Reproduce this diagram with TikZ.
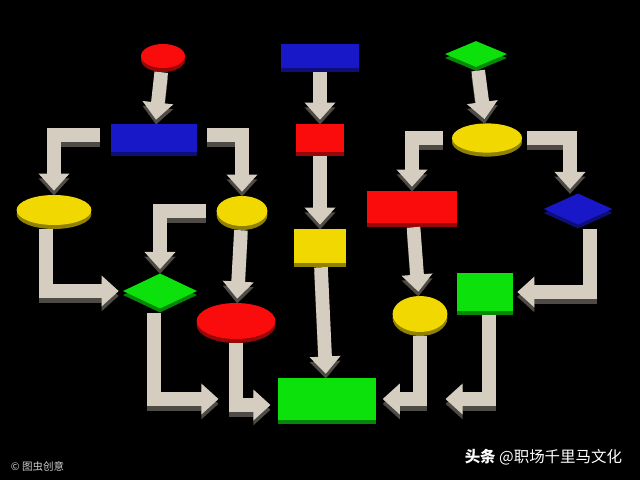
\documentclass[tikz,border=0pt]{standalone}
\usepackage{fontspec}
\usepackage{tikz}
\usetikzlibrary{shapes.geometric,arrows.meta,shadows}
\newfontfamily\cjk{Noto Sans CJK SC}
\definecolor{flowred}{RGB}{250,12,12}
\definecolor{flowblue}{RGB}{24,24,200}
\definecolor{flowgreen}{RGB}{12,225,12}
\definecolor{flowyellow}{RGB}{240,216,0}
\definecolor{flowbeige}{RGB}{214,205,193}
\definecolor{flowshade}{RGB}{78,74,70}
\tikzset{
  slab/.style={fill=#1, inner sep=0pt, general shadow={fill=#1!60!black, shadow yshift=-1mm}},
  box/.style={rectangle, slab=#1},
  oval/.style={ellipse, slab=#1},
  rhomb/.style={diamond, slab=#1},
  flow/.style={draw=flowbeige, line width=3.4mm, line join=miter,
    -{Triangle[width=7.5mm, length=4.3mm]}, shorten <=1mm, shorten >=1mm}
}
% all connectors, drawn once as shadow and once on top
\newcommand\flowlinks{
\draw[flow] (redtop) -- (bluebar);
\draw[flow] (bluetop) -- (redbox);
\draw[flow] (greentop) -- (yellowright);
\draw[flow, shorten <=2.7mm] ([yshift=0.7mm]bluebar.west) -| (yellowleft.north);
\draw[flow, shorten <=2.5mm] ([yshift=0.7mm]bluebar.east) -| (yellowmid.north);
\draw[flow] (redbox) -- (yellowbox);
\draw[flow, shorten <=2.3mm] (yellowright.west) -| (redbar.north);
\draw[flow, shorten <=1.3mm] (yellowright.east) -| ([xshift=-2mm]bluediamond.north);
\draw[flow] ([xshift=-2mm]yellowleft.south) |- (greendiamond.west);
\draw[flow] (yellowmid) -- (redoval);
\draw[flow, shorten <=2.7mm] (yellowmid.west) -| (greendiamond.north);
\draw[flow] (yellowbox) -- (greenbase);
\draw[flow] (redbar) -- (yellowsmall);
\draw[flow] ([xshift=3mm]bluediamond.south) |- (greenbox.east);
\draw[flow, shorten >=14.7mm] ([xshift=-1.5mm]greendiamond.south) |- (greenbase.west);
\draw[flow, shorten >=1.7mm] (redoval.south) |- ([yshift=-1.5mm]greenbase.west);
\draw[flow, shorten >=1.5mm] (yellowsmall.south) |- (greenbase.east);
\draw[flow, shorten >=17.2mm] ([xshift=1mm]greenbox.south) |- (greenbase.east);
}
\begin{document}
\begin{tikzpicture}[x=0.25mm, y=-0.25mm]
\fill[black] (0,0) rectangle (640,480);
\useasboundingbox (0,0) rectangle (640,480);

% top row
\node[oval=flowred, minimum width=11mm, minimum height=6mm] (redtop) at (163,56) {};
\node[box=flowblue, minimum width=19.5mm, minimum height=6mm] (bluetop) at (320,56) {};
\node[rhomb=flowgreen, minimum width=15.5mm, minimum height=6.5mm] (greentop) at (476,54) {};

% second row
\node[box=flowblue, minimum width=21.5mm, minimum height=7mm] (bluebar) at (154,138) {};
\node[box=flowred, minimum width=12.2mm, minimum height=7mm] (redbox) at (320,138) {};
\node[oval=flowyellow, minimum width=17.5mm, minimum height=7.3mm] (yellowright) at (487,138) {};

% third row
\node[oval=flowyellow, minimum width=18.7mm, minimum height=7.5mm] (yellowleft) at (54,210) {};
\node[oval=flowyellow, minimum width=12.7mm, minimum height=7.5mm] (yellowmid) at (242,211) {};
\node[box=flowred, minimum width=22.5mm, minimum height=8mm] (redbar) at (412,207) {};
\node[rhomb=flowblue, minimum width=17.2mm, minimum height=7.8mm] (bluediamond) at (578,209) {};
\node[box=flowyellow, minimum width=13mm, minimum height=8.5mm] (yellowbox) at (320,246) {};

% fourth row
\node[rhomb=flowgreen, minimum width=18.5mm, minimum height=8.8mm] (greendiamond) at (160,291) {};
\node[oval=flowred, minimum width=19.7mm, minimum height=9mm] (redoval) at (236,321) {};
\node[box=flowgreen, minimum width=14mm, minimum height=9.5mm] (greenbox) at (485,292) {};
\node[oval=flowyellow, minimum width=13.7mm, minimum height=9mm] (yellowsmall) at (420,314) {};
\node[box=flowgreen, minimum width=24.7mm, minimum height=10.5mm] (greenbase) at (327,399) {};

% connectors with their shadow
\begin{scope}[transform canvas={yshift=-1.2mm}, flow/.append style={draw=flowshade}]
\flowlinks
\end{scope}
\flowlinks

% watermarks
\node[anchor=west, text=black!20, font=\cjk\fontsize{7.5}{9}\selectfont] (credit) at (6,466) {© 图虫创意};
\node[anchor=east, text=white, font=\cjk\fontsize{11}{13}\selectfont] (account) at (627,457) {\textbf{头条} @职场千里马文化};
\end{tikzpicture}
\end{document}
